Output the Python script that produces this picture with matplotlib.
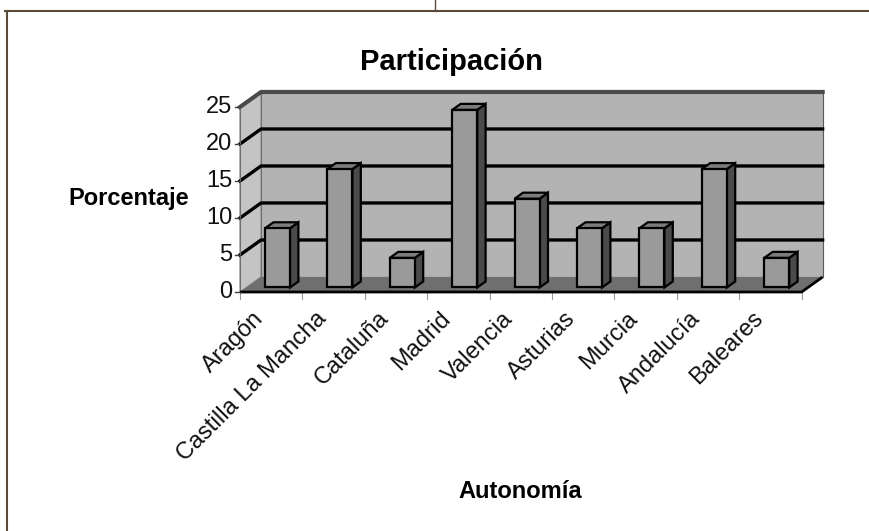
import matplotlib
matplotlib.use('Agg')
from matplotlib import pyplot as plt
from matplotlib.patches import Polygon

plt.rcParams['font.family'] = ['Liberation Sans', 'DejaVu Sans']

# datos
regiones = ['Aragón', 'Castilla La Mancha', 'Cataluña', 'Madrid', 'Valencia',
            'Asturias', 'Murcia', 'Andalucía', 'Baleares']
porcentaje = [8, 16, 4, 24, 12, 8, 8, 16, 4]
yticks = [0, 5, 10, 15, 20, 25]

# profundidad del efecto 3D (en unidades de datos)
DX = 0.337
DY = 2.03
N = len(regiones)
YMAX = 25

WALL = '#b3b3b3'
SIDE = '#c4c4c4'
FLOOR = '#6f6f6f'
FRONT = '#9a9a9a'
BSIDE = '#4a4a4a'
BTOP = '#7c7c7c'

fig = plt.figure(figsize=(8.69, 5.31), dpi=100)
W, H = 869, 531
# ejes: px x 200..840, y 60..320
ax = fig.add_axes([200 / W, (H - 320) / H, 640 / W, 260 / H])
ax.set_xlim((200 - 240) / 62.4, (840 - 240) / 62.4)
ax.set_ylim((292 - 320) / 7.4, (292 - 60) / 7.4)
ax.axis('off')


def poly(pts, fc, ec='none', lw=0, z=1):
    p = Polygon(pts, closed=True, facecolor=fc, edgecolor=ec, linewidth=lw,
                zorder=z, joinstyle='miter', clip_on=False)
    ax.add_patch(p)


# pared del fondo
poly([(DX, DY), (N + DX, DY), (N + DX, YMAX + DY), (DX, YMAX + DY)], WALL,
     ec='#5a5a5a', lw=0.8, z=1)
# pared lateral
poly([(0, 0), (DX, DY), (DX, YMAX + DY), (0, YMAX)], SIDE, ec='#808080',
     lw=0.8, z=1)
# suelo
poly([(0, 0), (N, 0), (N + DX, DY), (DX, DY)], FLOOR, z=2)
ax.plot([0, N, N + DX], [0, 0, DY], color='black', lw=2, zorder=3,
        solid_capstyle='butt', clip_on=False)

# lineas de division
for v in yticks[1:-1]:
    ax.plot([0, DX, N + DX], [v, v + DY, v + DY], color='black', lw=2.4,
            zorder=2, clip_on=False)
ax.plot([0, DX, N + DX], [YMAX, YMAX + DY, YMAX + DY], color='#4a4a4a',
        lw=3, zorder=2, clip_on=False)

# eje vertical y marcas
ax.plot([0, 0], [0, YMAX], color='#707070', lw=0.8, zorder=2, clip_on=False)
for v in yticks:
    ax.plot([-0.08, 0], [v, v], color='#404040', lw=1, zorder=3,
            clip_on=False)
    ax.text(-0.12, v, str(v), ha='right', va='center', fontsize=17,
            color='#111111')

# marcas de categoria
for i in range(N + 1):
    ax.plot([i, i], [0, -0.9], color='#999999', lw=0.8, zorder=1,
            clip_on=False)

# barras
d0, d1 = 0.3, 0.7
for i, v in enumerate(porcentaje):
    x0 = i + 0.3 + d0 * DX
    x1 = i + 0.7 + d0 * DX
    b0 = d0 * DY
    ox = (d1 - d0) * DX
    oy = (d1 - d0) * DY
    poly([(x1, b0), (x1 + ox, b0 + oy), (x1 + ox, b0 + oy + v), (x1, b0 + v)],
         BSIDE, ec='black', lw=1.6, z=5)
    poly([(x0, b0 + v), (x1, b0 + v), (x1 + ox, b0 + v + oy),
          (x0 + ox, b0 + v + oy)], BTOP, ec='black', lw=1.6, z=5)
    poly([(x0, b0), (x1, b0), (x1, b0 + v), (x0, b0 + v)], FRONT,
         ec='black', lw=1.6, z=6)

# etiquetas de categoria
for i, nombre in enumerate(regiones):
    ax.text(i + 0.2, -2.1, nombre, rotation=45, rotation_mode='anchor',
            ha='right', va='top', fontsize=17, color='#111111')

# textos
fig.text(451 / W, 1 - 62 / H, 'Participación', ha='center', va='center',
         fontsize=21, fontweight='bold')
fig.text(129 / W, 1 - 199 / H, 'Porcentaje', ha='center', va='center',
         fontsize=17, fontweight='bold')
fig.text(520 / W, 1 - 492 / H, 'Autonomía', ha='center', va='center',
         fontsize=17, fontweight='bold')

# marco de la pagina
frame = '#5a4a3c'
fig.add_artist(plt.Line2D([5 / W, 1], [1 - 11 / H, 1 - 11 / H], color=frame,
                          lw=1.5))
fig.add_artist(plt.Line2D([435 / W, 435 / W], [1 - 11 / H, 1], color=frame,
                          lw=1))
fig.add_artist(plt.Line2D([7 / W, 7 / W], [0, 1 - 11 / H], color=frame,
                          lw=1.5))

fig.savefig('out.png', dpi=100, facecolor='white')
